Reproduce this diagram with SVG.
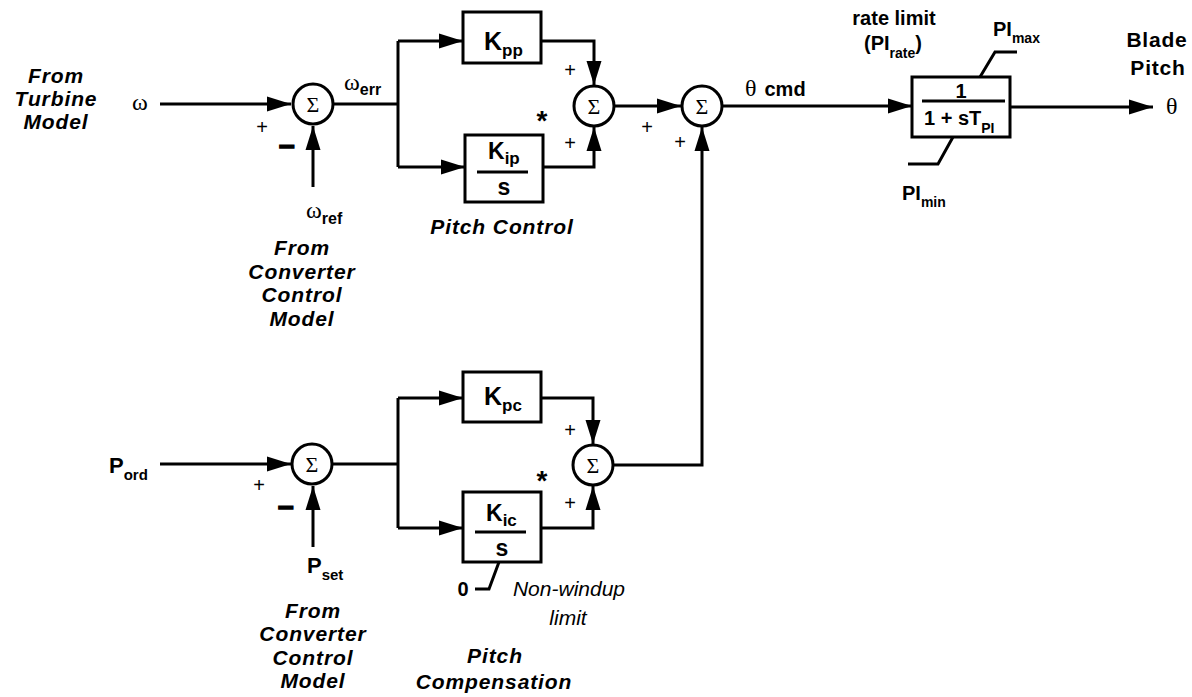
<svg xmlns="http://www.w3.org/2000/svg" width="1192" height="697" viewBox="0 0 1192 697">
<defs>
<marker id="ah" markerUnits="userSpaceOnUse" markerWidth="25" markerHeight="16" refX="24" refY="8" orient="auto">
<path d="M0,0.5 L24,8 L0,15.5 z" fill="#000"/>
</marker>
<style>
text{fill:#000}
.ln{fill:none;stroke:#000;stroke-width:3}
.bx{fill:#fff;stroke:#000;stroke-width:3}
.sum{fill:#fff;stroke:#000;stroke-width:3}
.sig{font-family:"Liberation Serif",serif;font-size:22px;text-anchor:middle}
.gr{font-family:"Liberation Serif",serif;font-size:24px}
.bi{font-family:"Liberation Sans",Arial,sans-serif;font-size:21px;font-weight:bold;font-style:italic;text-anchor:middle;letter-spacing:0.9px}
.b{font-family:"Liberation Sans",Arial,sans-serif;font-weight:bold}
.pl{font-family:"Liberation Sans",Arial,sans-serif;font-size:20px;text-anchor:middle}
.mn{font-family:"Liberation Sans",Arial,sans-serif;font-size:28px;font-weight:bold;stroke:#000;stroke-width:1.6}
.it{font-family:"Liberation Sans",Arial,sans-serif;font-size:21px;font-style:italic;text-anchor:middle}
</style>
</defs>
<rect width="1192" height="697" fill="#fff"/>

<g id="connectors">
<path class="ln" d="M160,104 H291" marker-end="url(#ah)"/>
<path class="ln" d="M313,187 V126" marker-end="url(#ah)"/>
<path class="ln" d="M334,104 H398"/>
<path class="ln" d="M398,41 V167"/>
<path class="ln" d="M398,41 H463" marker-end="url(#ah)"/>
<path class="ln" d="M398,167 H465" marker-end="url(#ah)"/>
<path class="ln" d="M541,41 H594 V85" marker-end="url(#ah)"/>
<path class="ln" d="M543,167 H594 V127" marker-end="url(#ah)"/>
<path class="ln" d="M615,106 H681" marker-end="url(#ah)"/>
<path class="ln" d="M614,465 H702 V127" marker-end="url(#ah)"/>
<path class="ln" d="M723,106 H912" marker-end="url(#ah)"/>
<path class="ln" d="M1010,107 H1153" marker-end="url(#ah)"/>
<path class="ln" d="M160,464 H291" marker-end="url(#ah)"/>
<path class="ln" d="M313,547 V486" marker-end="url(#ah)"/>
<path class="ln" d="M333,464 H398"/>
<path class="ln" d="M398,398 V528"/>
<path class="ln" d="M398,398 H463" marker-end="url(#ah)"/>
<path class="ln" d="M398,528 H463" marker-end="url(#ah)"/>
<path class="ln" d="M541,398 H593 V444" marker-end="url(#ah)"/>
<path class="ln" d="M541,528 H593 V486" marker-end="url(#ah)"/>
</g>

<g id="sum1">
<circle class="sum" cx="313" cy="104" r="20"/>
<text class="sig" x="313" y="112">Σ</text>
</g>
<g id="sum2">
<circle class="sum" cx="594" cy="106" r="20"/>
<text class="sig" x="594" y="114">Σ</text>
</g>
<g id="sum3">
<circle class="sum" cx="702" cy="106" r="20"/>
<text class="sig" x="702" y="114">Σ</text>
</g>
<g id="sum4">
<circle class="sum" cx="312" cy="464" r="20"/>
<text class="sig" x="312" y="472">Σ</text>
</g>
<g id="sum5">
<circle class="sum" cx="593" cy="465" r="20"/>
<text class="sig" x="593" y="473">Σ</text>
</g>

<g id="Kpp">
<rect class="bx" x="463" y="12" width="78" height="51"/>
<text class="b" x="484" y="50" font-size="25">K<tspan font-size="17" dy="6">pp</tspan></text>
</g>
<g id="Kip">
<rect class="bx" x="465" y="135" width="78" height="67"/>
<text class="b" x="488" y="159" font-size="23">K<tspan font-size="17" dy="5">ip</tspan></text>
<line class="ln" x1="477" y1="172" x2="528" y2="172"/>
<text class="b" x="504" y="195" font-size="23" text-anchor="middle">s</text>
</g>
<g id="Kpc">
<rect class="bx" x="463" y="372" width="78" height="50"/>
<text class="b" x="484" y="405" font-size="25">K<tspan font-size="17" dy="6">pc</tspan></text>
</g>
<g id="Kic">
<rect class="bx" x="463" y="492" width="78" height="70"/>
<text class="b" x="486" y="521" font-size="23">K<tspan font-size="17" dy="5">ic</tspan></text>
<line class="ln" x1="475" y1="532" x2="526" y2="532"/>
<text class="b" x="502" y="556" font-size="23" text-anchor="middle">s</text>
<path class="ln" d="M475,589 H489 L499,562"/>
</g>
<g id="lag">
<rect class="bx" x="912" y="77" width="98" height="60"/>
<text class="b" x="961" y="98" font-size="20" text-anchor="middle">1</text>
<line class="ln" x1="922" y1="101" x2="1005" y2="101"/>
<text class="b" x="924" y="125" font-size="20">1 + sT<tspan font-size="14" dy="8">PI</tspan></text>
<path class="ln" d="M980,77 L995,52 H1017"/>
<path class="ln" d="M953,137 L938,164 H908"/>
</g>

<g id="labels">
<text class="bi"><tspan x="56" y="83">From</tspan><tspan x="56" y="106">Turbine</tspan><tspan x="56" y="129">Model</tspan></text>
<text class="gr" x="132" y="110">ω</text>
<text class="pl" x="262" y="134">+</text>
<text class="mn" x="279" y="154">–</text>
<text class="gr" x="306" y="218">ω<tspan class="b" font-size="16" dy="6">ref</tspan></text>
<text class="bi"><tspan x="302" y="255">From</tspan><tspan x="302" y="279">Converter</tspan><tspan x="302" y="302">Control</tspan><tspan x="302" y="326">Model</tspan></text>
<text class="gr" x="344" y="90">ω<tspan class="b" font-size="16" dy="5">err</tspan></text>
<text class="pl" x="570" y="77">+</text>
<text class="pl" x="570" y="150">+</text>
<text class="b" x="542" y="130" font-size="28" text-anchor="middle">*</text>
<text class="pl" x="647" y="134">+</text>
<text class="pl" x="680" y="149">+</text>
<text class="bi" x="502" y="234" font-size="20">Pitch Control</text>
<text x="745" y="96"><tspan class="gr" font-size="22">θ</tspan><tspan class="b" font-size="20" dx="8">cmd</tspan></text>
<text class="b" x="894" y="25" font-size="20" text-anchor="middle">rate limit</text>
<text class="b" x="864" y="50" font-size="20">(PI<tspan font-size="14" dy="8">rate</tspan><tspan dy="-8">)</tspan></text>
<text class="b" x="993" y="36" font-size="20">PI<tspan font-size="14" dy="7">max</tspan></text>
<text class="b" x="902" y="200" font-size="20">PI<tspan font-size="14" dy="7">min</tspan></text>
<text class="b" font-size="21" text-anchor="middle" letter-spacing="0.8"><tspan x="1157" y="47">Blade</tspan><tspan x="1158" y="75">Pitch</tspan></text>
<text class="gr" x="1166" y="114" font-size="22">θ</text>
<text class="b" x="109" y="473" font-size="22">P<tspan font-size="15" dy="7">ord</tspan></text>
<text class="pl" x="259" y="492">+</text>
<text class="mn" x="278" y="515">–</text>
<text class="b" x="307" y="573" font-size="22">P<tspan font-size="15" dy="7">set</tspan></text>
<text class="bi"><tspan x="313" y="618">From</tspan><tspan x="313" y="641">Converter</tspan><tspan x="313" y="665">Control</tspan><tspan x="313" y="688">Model</tspan></text>
<text class="pl" x="570" y="437">+</text>
<text class="pl" x="570" y="510">+</text>
<text class="b" x="542" y="490" font-size="28" text-anchor="middle">*</text>
<text class="b" x="463" y="596" font-size="20" text-anchor="middle">0</text>
<text class="it" x="569" y="596">Non-windup</text>
<text class="it" x="568" y="625">limit</text>
<text class="bi"><tspan x="495" y="663">Pitch</tspan><tspan x="494" y="689">Compensation</tspan></text>
</g>
</svg>
